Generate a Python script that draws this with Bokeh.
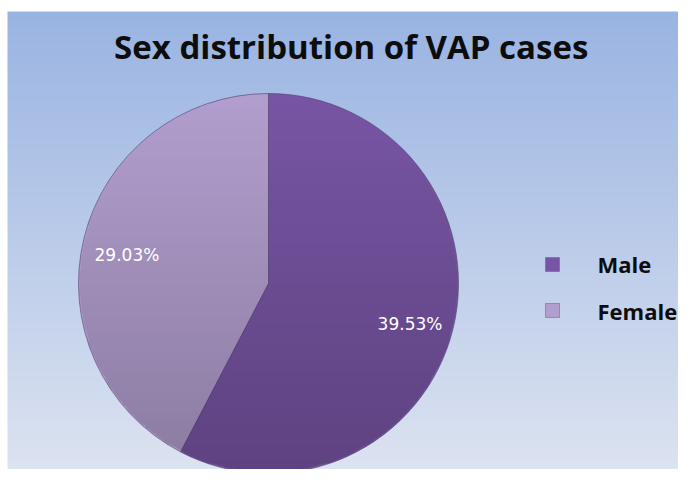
import numpy as np
from bokeh.plotting import figure
from bokeh.models import Range1d
from bokeh.core.properties import value
from bokeh.embed import file_html
from bokeh.resources import INLINE

# ---- data ----
categories = ["Male", "Female"]
percents = [39.53, 29.03]
labels = ["39.53%", "29.03%"]
colors = ["#7855a4", "#b29ece"]
title_text = "Sex distribution  of VAP cases"

W, H = 678, 469
p = figure(width=W, height=H, output_backend="svg", toolbar_location=None,
           x_range=Range1d(0, W), y_range=Range1d(0, H),
           min_border_left=0, min_border_right=0, min_border_bottom=0,
           min_border_top=0, border_fill_color="white",
           background_fill_color="white")
p.axis.visible = False
p.grid.visible = False
p.outline_line_color = None

# background gradient (vertical)
ny = 200
t = np.linspace(0, 1, ny)[:, None]  # bottom -> top
top = np.array([0x9a, 0xb4, 0xe2]); bot = np.array([0xdc, 0xe3, 0xf1])
col = (bot + (top - bot) * t).astype(np.uint32)
bg = (255 << 24) | (col[:, 2:3] << 16) | (col[:, 1:2] << 8) | col[:, 0:1]
bg = np.repeat(bg, 2, axis=1).astype(np.uint32)
p.image_rgba(image=[bg], x=7, y=0, dw=W - 7, dh=H - 11)

# pie
cx, cy, R = 268, 186, 190
frac = np.array(percents) / sum(percents)
ends = np.pi / 2 - 2 * np.pi * np.cumsum(frac)
starts = np.concatenate([[np.pi / 2], ends[:-1]])
p.wedge(x=cx, y=cy, radius=R, start_angle=starts, end_angle=ends,
        direction="clock", fill_color=colors, line_color="#4e3d6e",
        line_alpha=0.6, line_width=1)

# shading overlay on pie (darker toward bottom)
n = 400
ys = np.linspace(-1, 1, n)
xs = np.linspace(-1, 1, n)
XX, YY = np.meshgrid(xs, ys)
inside = (XX ** 2 + YY ** 2) <= 0.995
alpha = (0.22 * (1 - (YY + 1) / 2)) * inside
a = (alpha * 255).astype(np.uint32)
ov = (a << 24).astype(np.uint32)
p.image_rgba(image=[ov], x=cx - R, y=cy - R, dw=2 * R, dh=2 * R)

# slice labels
mids = (starts + ends) / 2
lx = cx + 0.767 * R * np.cos(mids)
ly = cy + 0.767 * R * np.sin(mids) - 6
p.text(x=lx, y=ly, text=labels, text_color="white", text_font=value("DejaVu Sans"),
       text_font_size="17px", text_align="center", text_baseline="middle")

# title
p.text(x=[355], y=[423], text=[title_text], text_font=value("Open Sans"),
       text_font_style="bold", text_font_size="33px", text_color="#0d0d0d",
       text_align="center", text_baseline="alphabetic")

# legend
leg_y = [205, 159]
p.scatter(x=[552] * 2, y=leg_y, marker="square", size=14, fill_color=colors,
          line_color="#6a5a8a", line_alpha=0.5)
p.text(x=[597] * 2, y=[206, 159], text=categories, text_font=value("Open Sans"),
       text_font_style="bold", text_font_size="22px", text_color="#0d0d0d",
       text_align="left", text_baseline="alphabetic")

open("out.html", "w").write(file_html(p, INLINE))
